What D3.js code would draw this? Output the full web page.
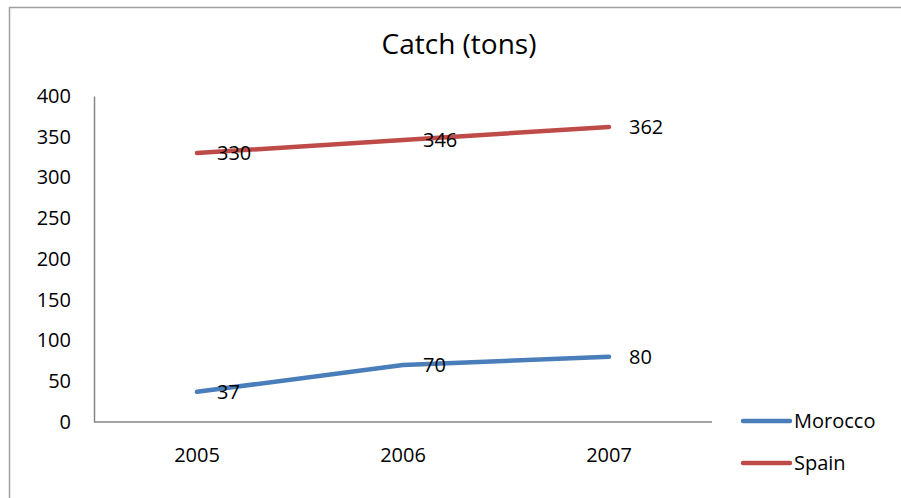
<!DOCTYPE html>
<html>
<head>
<meta charset="utf-8">
<script src="https://cdn.jsdelivr.net/npm/d3@7"></script>
<style>
  html, body { margin: 0; padding: 0; background: #fff; }
  svg { display: block; }
  text { font-family: "Open Sans", "Noto Sans", sans-serif; fill: #000; }
</style>
</head>
<body>
<svg id="chart" width="901" height="498"></svg>
<script>
// Chart data
const years = ["2005", "2006", "2007"];
const morocco = [37, 70, 80];
const spain = [330, 346, 362];
const yTicks = [0, 50, 100, 150, 200, 250, 300, 350, 400];
const seriesNames = ["Morocco", "Spain"];
const seriesColors = ["#4A7EBB", "#BE4B48"];
const titleText = "Catch (tons)";

const series = [
  { name: seriesNames[0], values: morocco, color: seriesColors[0] },
  { name: seriesNames[1], values: spain, color: seriesColors[1] }
];

const svg = d3.select("#chart");

// Outer chart frame (top and left edges visible)
svg.append("path")
  .attr("d", "M9.5,498 L9.5,7.5 L901,7.5")
  .attr("fill", "none")
  .attr("stroke", "#A0A0A0")
  .attr("stroke-width", 1.5);

const plot = { left: 94, right: 712, top: 96, bottom: 422 };

const x = d3.scaleBand().domain(years).range([plot.left, plot.right]);
const y = d3.scaleLinear().domain([0, 400]).range([plot.bottom, plot.top]);
const cx = d => x(d) + x.bandwidth() / 2;

// Title
svg.append("text")
  .attr("x", 459).attr("y", 54)
  .attr("text-anchor", "middle")
  .style("font-size", "28px")
  .text(titleText);

// Y axis
const yAxis = svg.append("g")
  .attr("transform", `translate(${plot.left},0)`)
  .call(d3.axisLeft(y).tickValues(yTicks).tickSize(0).tickPadding(23));
yAxis.select(".domain").attr("stroke", "#868686").attr("stroke-width", 1.5);
yAxis.selectAll("text")
  .style("font-size", "20px")
  .style("font-family", "\"Open Sans\", sans-serif")
  .attr("fill", "#000");

// X axis
const xAxis = svg.append("g")
  .attr("transform", `translate(0,${plot.bottom})`)
  .call(d3.axisBottom(x).tickSize(0).tickPadding(26));
xAxis.select(".domain").attr("stroke", "#868686").attr("stroke-width", 1.5)
  .attr("d", `M${plot.left},0H${plot.right}`);
xAxis.selectAll("text")
  .style("font-size", "20px")
  .style("font-family", "\"Open Sans\", sans-serif")
  .attr("fill", "#000");

// Lines
const line = d3.line()
  .x((d, i) => cx(years[i]))
  .y(d => y(d));

svg.selectAll(".series")
  .data(series)
  .join("path")
  .attr("class", "series")
  .attr("d", d => line(d.values))
  .attr("fill", "none")
  .attr("stroke", d => d.color)
  .attr("stroke-width", 4.5)
  .attr("stroke-linecap", "round")
  .attr("stroke-linejoin", "round");

// Value labels to the right of each point
series.forEach(s => {
  svg.selectAll(null)
    .data(s.values)
    .join("text")
    .attr("x", (d, i) => cx(years[i]) + 20)
    .attr("y", d => y(d))
    .attr("dy", "0.36em")
    .style("font-size", "20px")
    .text(d => d);
});

// Legend
const legend = svg.append("g");
series.forEach((s, i) => {
  const ly = 421 + i * 42;
  legend.append("line")
    .attr("x1", 743).attr("x2", 790)
    .attr("y1", ly).attr("y2", ly)
    .attr("stroke", s.color)
    .attr("stroke-width", 4.5)
    .attr("stroke-linecap", "round");
  legend.append("text")
    .attr("x", 794).attr("y", ly)
    .attr("dy", "0.36em")
    .style("font-size", "20px")
    .text(s.name);
});
</script>
</body>
</html>
